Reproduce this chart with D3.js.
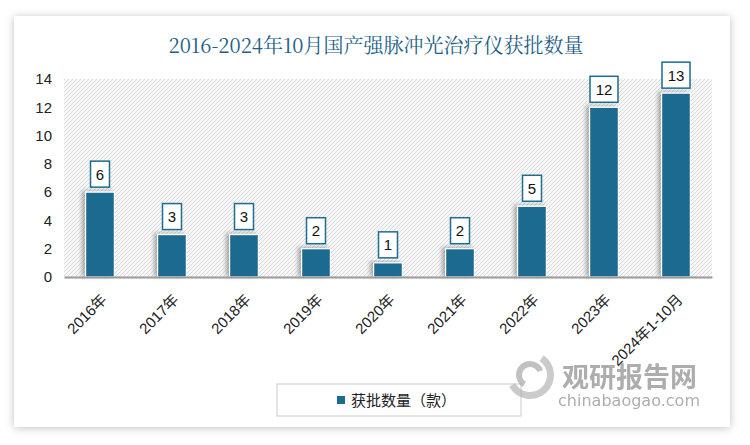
<!DOCTYPE html>
<html><head><meta charset="utf-8">
<script src="https://cdn.jsdelivr.net/npm/d3@7"></script>
<style>body{margin:0;background:#fff;}svg{display:block;}</style>
</head><body>
<svg id="c" width="750" height="445"></svg>
<script>
const categories = ["2016年","2017年","2018年","2019年","2020年","2021年","2022年","2023年","2024年1-10月"];
const values = [6,3,3,2,1,2,5,12,13];
const yTicks = [0,2,4,6,8,10,12,14];
const seriesName = "获批数量（款）";
const title = "2016-2024年10月国产强脉冲光治疗仪获批数量";

const svg = d3.select("#c");
const defs = svg.append("defs");
const f = defs.append("filter").attr("id","sh").attr("x","-20%").attr("y","-20%").attr("width","150%").attr("height","150%");
f.append("feDropShadow").attr("dx",0).attr("dy",1).attr("stdDeviation",4).attr("flood-color","#000").attr("flood-opacity",0.25);
const bs = defs.append("filter").attr("id","bsh").attr("x","-50%").attr("y","-20%").attr("width","200%").attr("height","140%");
bs.append("feDropShadow").attr("dx",-3).attr("dy",-1).attr("stdDeviation",2).attr("flood-color","#000").attr("flood-opacity",0.3);
const pat = defs.append("pattern").attr("id","hatch").attr("patternUnits","userSpaceOnUse").attr("width",4).attr("height",4);
pat.append("rect").attr("width",4).attr("height",4).attr("fill","#f7f7f7");
pat.append("path").attr("d","M-1,1 L1,-1 M0,4 L4,0 M3,5 L5,3").attr("stroke","#d4d4d4").attr("stroke-width",0.8);

// card
svg.append("rect").attr("x",14).attr("y",16).attr("width",716).attr("height",411).attr("fill","#fff").attr("filter","url(#sh)");

svg.append("text").attr("x",376).attr("y",53).attr("text-anchor","middle")
  .attr("font-family","'Noto Serif CJK SC','Noto Sans CJK SC',serif").attr("font-size",20)
  .attr("fill","#1e5f88").text(title);

const m = {l:64, r:712, t:79, b:277};
const x = d3.scaleBand().domain(categories).range([m.l,m.r]).paddingInner(0.6).paddingOuter(0.3);
const y = d3.scaleLinear().domain([0,14]).range([m.b,m.t]);

svg.append("rect").attr("x",m.l).attr("y",m.t).attr("width",m.r-m.l).attr("height",m.b-m.t).attr("fill","url(#hatch)");

const yAxis = svg.append("g").attr("transform",`translate(${m.l},0)`)
  .call(d3.axisLeft(y).tickValues(yTicks).tickSize(0).tickPadding(12));
yAxis.select(".domain").remove();
yAxis.selectAll("text").attr("font-family","'Liberation Sans',Arial,sans-serif").attr("font-size",15).attr("fill","#222");

svg.selectAll(".bar").data(values).join("rect").attr("class","bar")
  .attr("x",(d,i)=>x(categories[i])).attr("width",x.bandwidth())
  .attr("y",d=>y(d)).attr("height",d=>y(0)-y(d))
  .attr("fill","#1c6b90").attr("stroke","#fff").attr("stroke-width",1.2).attr("filter","url(#bsh)");

const xAxis = svg.append("g").attr("transform",`translate(0,${m.b})`)
  .call(d3.axisBottom(x).tickSize(0).tickPadding(0));
xAxis.select(".domain").attr("stroke","#999").attr("stroke-width",2);
xAxis.selectAll("text").attr("font-family","'Liberation Sans','Noto Sans CJK SC',sans-serif").attr("font-size",15).attr("fill","#222")
  .attr("text-anchor","end").attr("x",0).attr("y",0).attr("dy","0.35em").attr("transform","translate(4,20) rotate(-45)");

// value labels
const lg = svg.selectAll(".lab").data(values).join("g").attr("class","lab")
  .attr("transform",(d,i)=>`translate(${x(categories[i])+x.bandwidth()/2},${y(d)-18})`);
lg.append("rect").attr("x",d=>d>=10?-14:-9.5).attr("y",-13).attr("width",d=>d>=10?28:19).attr("height",26)
  .attr("fill","#fff").attr("stroke","#1c6b90").attr("stroke-width",1.5);
lg.append("text").attr("text-anchor","middle").attr("dy","0.36em")
  .attr("font-family","'Liberation Sans',Arial,sans-serif").attr("font-size",15).attr("fill","#111").text(d=>d);

// legend
svg.append("rect").attr("x",277).attr("y",384).attr("width",244).attr("height",32).attr("fill","#fff").attr("stroke","#ccc");
svg.append("rect").attr("x",337).attr("y",396).attr("width",8).attr("height",8).attr("fill","#1c6b90");
svg.append("text").attr("x",351).attr("y",406).attr("font-family","'Noto Sans CJK SC',sans-serif").attr("font-size",15).attr("fill","#222").text(seriesName);

// watermark
const wm = svg.append("g").attr("opacity",0.6);
const arc = d3.arc();
wm.append("path").attr("transform","translate(530,375)")
  .attr("d",arc({innerRadius:8,outerRadius:14,startAngle:-2.6,endAngle:1.2})).attr("fill","#999");
wm.append("path").attr("transform","translate(530,375)")
  .attr("d",arc({innerRadius:17,outerRadius:24,startAngle:0.6,endAngle:4.2})).attr("fill","#aaa");
wm.append("text").attr("x",562).attr("y",387).attr("font-family","'Noto Sans CJK SC',sans-serif").attr("font-weight","bold").attr("font-size",27).attr("fill","#777").text("观研报告网");
wm.append("text").attr("x",558).attr("y",406).attr("font-family","'DejaVu Sans',sans-serif").attr("font-size",16).attr("fill","#777").attr("textLength",142).text("chinabaogao.com");
</script>
</body></html>
